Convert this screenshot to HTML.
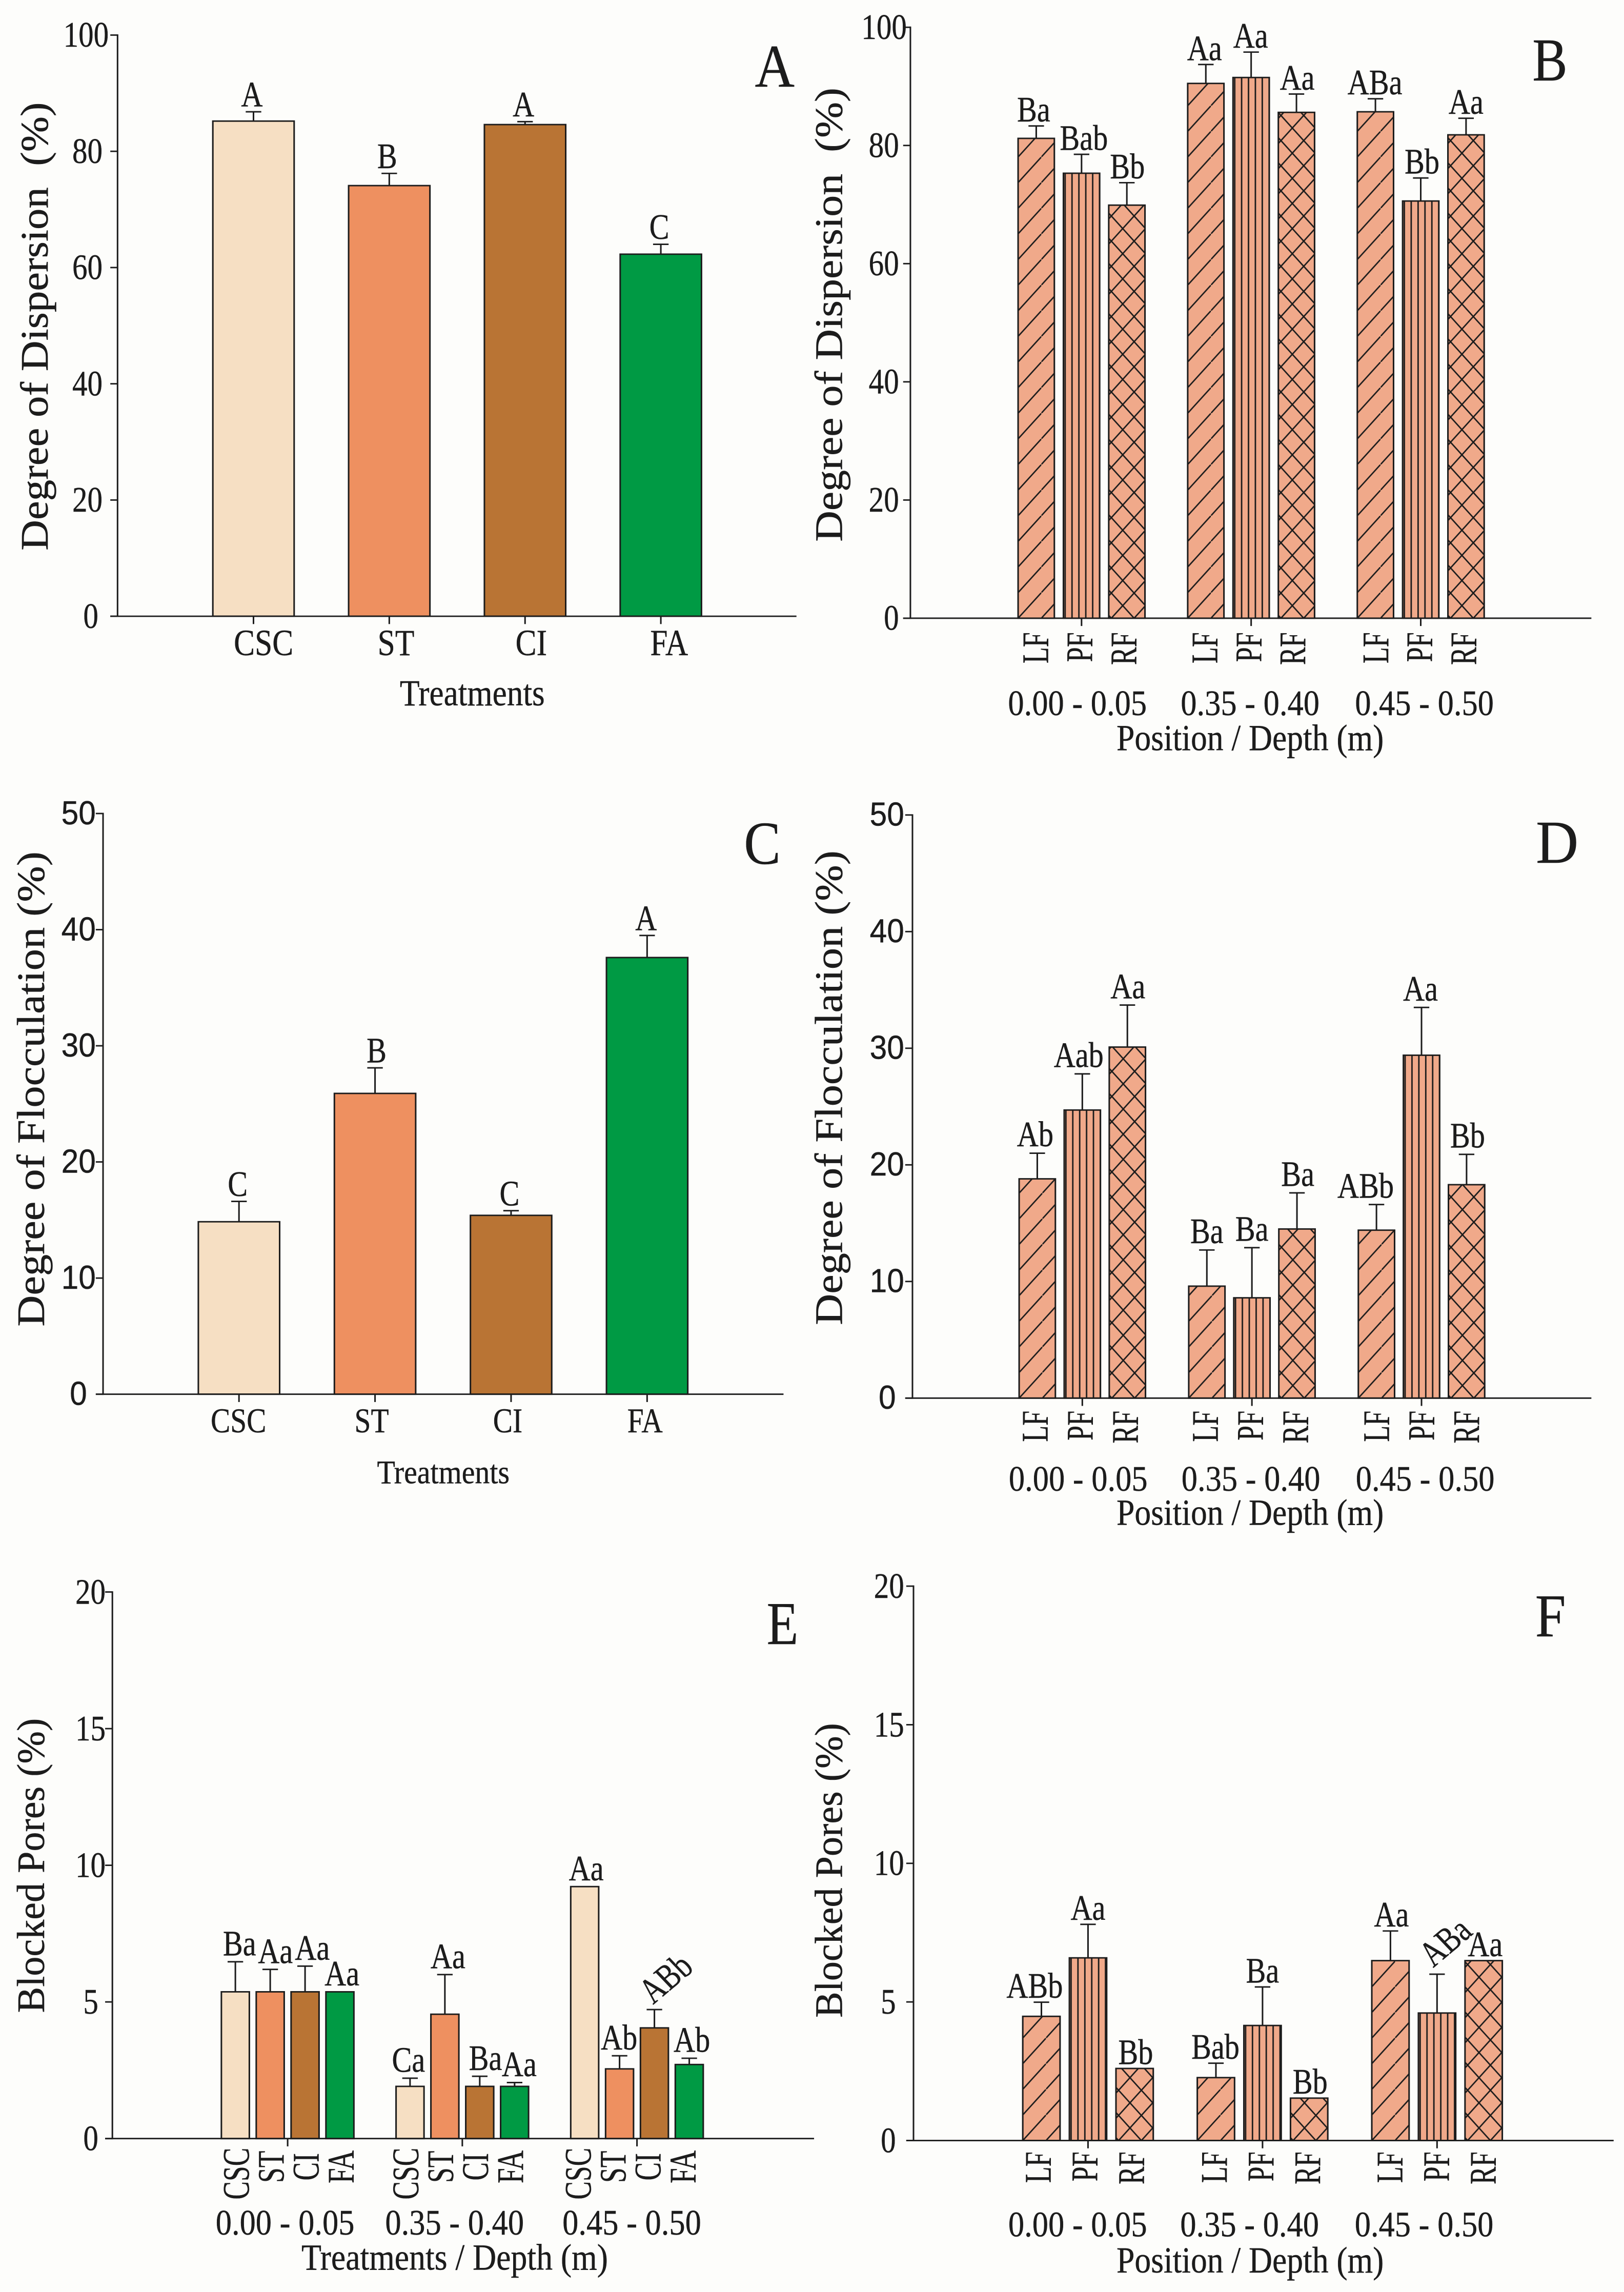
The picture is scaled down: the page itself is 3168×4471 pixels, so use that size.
<!DOCTYPE html>
<html lang="en">
<head>
<meta charset="utf-8">
<title>Degree of dispersion, flocculation and blocked pores</title>
<style>
html,body{margin:0;padding:0;background:#fdfdfb;}
svg{display:block;}
text{white-space:pre;stroke:#1c1c1c;stroke-width:0.5px;}
</style>
</head>
<body>
<svg id="figure" xmlns="http://www.w3.org/2000/svg" width="3168" height="4471" viewBox="0 0 3168 4471">
<defs>
<pattern id="hatch-LF" patternUnits="userSpaceOnUse" width="44.9" height="52.6">
<rect width="44.9" height="52.6" fill="#f0a98a"/>
<path d="M-9 63.1L54 -10.5" stroke="#1c1c1c" stroke-width="2.8" fill="none"/>
</pattern>
<pattern id="hatch-PF" patternUnits="userSpaceOnUse" width="13.3" height="20">
<rect width="13.3" height="20" fill="#f0a98a"/>
<path d="M3.3 0V20" stroke="#1c1c1c" stroke-width="2.8" fill="none"/>
</pattern>
<pattern id="hatch-RF" patternUnits="userSpaceOnUse" width="44" height="51.6" patternTransform="translate(5 0)">
<rect width="44" height="51.6" fill="#f0a98a"/>
<path d="M-4.4 -5.2L48.4 56.8M-4.4 56.8L48.4 -5.2" stroke="#1c1c1c" stroke-width="2.8" fill="none"/>
</pattern>
</defs>
<rect width="3168" height="4471" fill="#fdfdfb"/>
</svg>
<script>
// ---- Panel A data ----
const panelA_categories = ['CSC', 'ST', 'CI', 'FA'];
const panelA_values = [[85.2, 74.1, 84.6, 62.3]];
const panelA_errors = [[1.6, 2.1, 0.5, 1.7]];
const panelA_letters = [['A', 'B', 'A', 'C']];
const panelA_ticks = [0, 20, 40, 60, 80, 100];

// ---- Panel B data ----
const panelB_categories = ['LF', 'PF', 'RF'];
const panelB_groups = ['0.00 - 0.05', '0.35 - 0.40', '0.45 - 0.50'];
const panelB_values = [[81.2, 75.3, 69.9], [90.5, 91.5, 85.6], [85.7, 70.6, 81.8]];
const panelB_errors = [[2.1, 3.2, 3.8], [3.2, 4.3, 3.1], [2.2, 3.9, 2.8]];
const panelB_letters = [['Ba', 'Bab', 'Bb'], ['Aa', 'Aa', 'Aa'], ['ABa', 'Bb', 'Aa']];
const panelB_ticks = [0, 20, 40, 60, 80, 100];

// ---- Panel C data ----
const panelC_categories = ['CSC', 'ST', 'CI', 'FA'];
const panelC_values = [[14.85, 25.9, 15.4, 37.6]];
const panelC_errors = [[1.75, 2.2, 0.4, 1.9]];
const panelC_letters = [['C', 'B', 'C', 'A']];
const panelC_ticks = [0, 10, 20, 30, 40, 50];

// ---- Panel D data ----
const panelD_categories = ['LF', 'PF', 'RF'];
const panelD_groups = ['0.00 - 0.05', '0.35 - 0.40', '0.45 - 0.50'];
const panelD_values = [[18.8, 24.7, 30.1], [9.6, 8.6, 14.5], [14.4, 29.4, 18.3]];
const panelD_errors = [[2.2, 3.1, 3.6], [3.1, 4.3, 3.1], [2.2, 4.1, 2.6]];
const panelD_letters = [['Ab', 'Aab', 'Aa'], ['Ba', 'Ba', 'Ba'], ['ABb', 'Aa', 'Bb']];
const panelD_ticks = [0, 10, 20, 30, 40, 50];

// ---- Panel E data ----
const panelE_categories = ['CSC', 'ST', 'CI', 'FA'];
const panelE_groups = ['0.00 - 0.05', '0.35 - 0.40', '0.45 - 0.50'];
const panelE_values = [[5.37, 5.37, 5.37, 5.37], [1.91, 4.55, 1.91, 1.91], [9.22, 2.55, 4.05, 2.71]];
const panelE_errors = [[1.1, 0.82, 0.94, 0], [0.3, 1.45, 0.37, 0.14], [0, 0.48, 0.67, 0.23]];
const panelE_letters = [['Ba', 'Aa', 'Aa', 'Aa'], ['Ca', 'Aa', 'Ba', 'Aa'], ['Aa', 'Ab', 'ABb', 'Ab']];
const panelE_ticks = [0, 5, 10, 15, 20];

// ---- Panel F data ----
const panelF_categories = ['LF', 'PF', 'RF'];
const panelF_groups = ['0.00 - 0.05', '0.35 - 0.40', '0.45 - 0.50'];
const panelF_values = [[4.48, 6.59, 2.6], [2.27, 4.15, 1.53], [6.49, 4.6, 6.49]];
const panelF_errors = [[0.51, 1.21, 0], [0.52, 1.39, 0], [1.07, 1.4, 0]];
const panelF_letters = [['ABb', 'Aa', 'Bb'], ['Bab', 'Ba', 'Bb'], ['Aa', 'ABa', 'Aa']];
const panelF_ticks = [0, 5, 10, 15, 20];

const SVGNS = 'http://www.w3.org/2000/svg';
const SCALE_X = 1.0102;
const SCALE_Y = 0.9503;
const INK = '#1c1c1c';
const SERIF = '"Liberation Serif", serif';
const SANS = '"Liberation Sans", sans-serif';
const solidColors = { CSC: '#f6dfc3', ST: '#ee9060', CI: '#b97434', FA: '#009a44' };
const svgRoot = document.getElementById('figure');

function make(tag, parent, attrs) {
  const node = document.createElementNS(SVGNS, tag);
  for (const key in attrs) node.setAttribute(key, attrs[key]);
  parent.appendChild(node);
  return node;
}

function addText(parent, name, str, x, y, size, opts) {
  const o = opts || {};
  const el = make('text', parent, {
    'font-family': o.font || SERIF,
    'font-size': size,
    'fill': INK,
    'text-anchor': o.anchor || 'middle',
    'transform': 'translate(' + x + ' ' + y + ') rotate(' + (o.rot || 0) + ') scale(' + (o.sx || 1) + ' 1)'
  });
  if (o.length) {
    el.setAttribute('textLength', o.length);
    el.setAttribute('lengthAdjust', 'spacingAndGlyphs');
  }
  el.textContent = str;
  
  
  return el;
}

function drawPanel(p) {
  const id = p.id.toLowerCase();
  const g = make('g', svgRoot, {
    transform: 'translate(' + p.ox + ' ' + p.oy + ') scale(' + SCALE_X + ' ' + SCALE_Y + ')'
  });
  
  

  const yScale = v => p.yZero - (v / p.yMax) * (p.yZero - p.yTop);
  const xScale = (gi, i) => p.x0 + gi * p.groupStep + i * p.barStep;

  // bars and error bars
  p.values.forEach((vals, gi) => {
    vals.forEach((v, i) => {
      const cat = p.categories[i];
      const cx = xScale(gi, i);
      const top = yScale(v);
      const errTop = yScale(v + p.errors[gi][i]);
      const left = cx - p.barW / 2;
      const groupTag = (p.groups ? p.groups[gi].replace(/[ .]/g, '') + '-' : '');

      if (p.errors[gi][i] > 0) {
        const err = make('path', g, {
          d: 'M' + cx + ' ' + top + 'V' + errTop + 'M' + (cx - 15) + ' ' + errTop + 'H' + (cx + 15),
          fill: 'none', stroke: INK, 'stroke-width': 3
        });
        
        
      }

      const holder = make('g', g, { transform: 'translate(' + left + ' ' + p.yZero + ')' });
      const fill = solidColors[cat] || ('url(#hatch-' + cat + ')');
      const bar = make('rect', holder, {
        x: 0, y: top - p.yZero, width: p.barW, height: p.yZero - top,
        fill: fill, stroke: INK, 'stroke-width': 3
      });
      
      

      const letter = p.letters[gi][i];
      const rotated = p.rotatedLabel && p.rotatedLabel.g === gi && p.rotatedLabel.i === i;
      const labelX = cx + (rotated ? p.rotatedLabel.dx : p.labelDx[gi][i]);
      const labelY = errTop + (rotated ? p.rotatedLabel.dy : p.labelDy);
      addText(g, 'significance-label', letter, labelX, labelY, 74, {
        sx: 0.78, rot: rotated ? p.rotatedLabel.rot : 0
      });

      // category tick labels
      if (p.rotated) {
        const lx = cx + p.catDx[gi] + i * p.catStep + 23;
        if (p.catMiddle) {
          addText(g, 'x-tick-label', cat, lx, cat.length === 3 ? p.catY + 14 : p.catY, 72, {
            sx: 0.78, rot: -90
          });
        } else {
          addText(g, 'x-tick-label', cat, lx, p.catY, 72, { sx: 0.76, rot: -90, anchor: 'end' });
        }
      } else {
        addText(g, 'x-tick-label', cat, cx + p.catDx[i], p.catY, p.catSize, { sx: 0.8 });
        const tick = make('line', g, { x1: cx, x2: cx, y1: p.yZero, y2: p.yZero + 16, stroke: INK, 'stroke-width': 3 });
        
        
      }
    });

    // group tick and label
    if (p.groups) {
      const center = xScale(gi, p.groupTickAt);
      const tick = make('line', g, { x1: center, x2: center, y1: p.yZero, y2: p.yZero + 16, stroke: INK, 'stroke-width': 3 });
      
      
      addText(g, 'depth-label', p.groups[gi], center + p.groupDx[gi], p.groupY, 74, { length: 268 });
    }
  });

  // axes
  const yAxis = make('line', g, { x1: p.axisX, x2: p.axisX, y1: p.yTop - 1.5, y2: p.yZero + 1.5, stroke: INK, 'stroke-width': 3 });
  
  
  const xAxis = make('line', g, { x1: p.axisX - 14, x2: p.axisEnd, y1: p.yZero, y2: p.yZero, stroke: INK, 'stroke-width': 3 });
  
  

  p.ticks.forEach(t => {
    const ty = yScale(t);
    const label = String(t);
    const tick = make('line', g, { x1: p.axisX - 14, x2: p.axisX, y1: ty, y2: ty, stroke: INK, 'stroke-width': 3 });
    
    
    addText(g, 'y-tick-label', label, p.tickRight[label.length], ty + (p.sans ? 22 : 24), p.sans ? 68 : 74, {
      anchor: 'end', sx: p.sans ? 0.88 : 0.79, font: p.sans ? SANS : SERIF
    });
  });

  // titles
  addText(g, 'y-axis-title', p.yTitle, p.yTitleX, p.yTitleBottom, 76, {
    anchor: 'start', rot: -90, length: p.yTitleLen
  });
  addText(g, 'x-axis-title', p.xTitle, p.xTitleX, p.xTitleY, p.xTitleSize, { length: p.xTitleLen });
  addText(g, 'panel-letter', p.id, p.letterX, p.letterY, 125, { sx: p.letterSx });
}

drawPanel({
  id: 'A', ox: 0, oy: 0,
  categories: panelA_categories, values: panelA_values, errors: panelA_errors,
  letters: panelA_letters, ticks: panelA_ticks,
  yMax: 100, yZero: 1265, yTop: 72, axisX: 227, axisEnd: 1538,
  x0: 489.5, groupStep: 0, barStep: 262.2, barW: 157,
  labelDx: [[-3, -4, -3, -3]], labelDy: -11,
  catDx: [19.5, 13, 12, 16], catY: 1345, catSize: 76,
  tickRight: { 3: 210, 2: 198, 1: 190 },
  yTitle: 'Degree of Dispersion  (%)', yTitleX: 92, yTitleBottom: 1130, yTitleLen: 920,
  xTitle: 'Treatments', xTitleX: 912, xTitleY: 1448, xTitleSize: 76, xTitleLen: 280,
  letterX: 1496, letterY: 178, letterSx: 0.85
});

drawPanel({
  id: 'B', ox: 1584, oy: 0,
  categories: panelB_categories, groups: panelB_groups, values: panelB_values, errors: panelB_errors,
  letters: panelB_letters, ticks: panelB_ticks,
  yMax: 100, yZero: 1269, yTop: 56, axisX: 190, axisEnd: 1505,
  x0: 433, groupStep: 327.5, barStep: 87.5, barW: 70,
  labelDx: [[-5, 4.5, 1], [-2.5, -1, 1.5], [-1, 2.5, 0]], labelDy: -9,
  rotated: true, catDx: [0, -1, 1.5], catStep: -2.5, catY: 1298,
  groupTickAt: 1, groupDx: [-8, -2, 7], groupY: 1468,
  tickRight: { 3: 183, 2: 168, 1: 168 },
  yTitle: 'Degree of Dispersion  (%)', yTitleX: 58, yTitleBottom: 1112, yTitleLen: 932,
  xTitle: 'Position / Depth (m)', xTitleX: 846, xTitleY: 1540, xTitleSize: 76, xTitleLen: 516,
  letterX: 1425, letterY: 165, letterSx: 0.81
});

drawPanel({
  id: 'C', ox: 0, oy: 1490, sans: true,
  categories: panelC_categories, values: panelC_values, errors: panelC_errors,
  letters: panelC_letters, ticks: panelC_ticks,
  yMax: 50, yZero: 1294, yTop: 102, axisX: 199, axisEnd: 1513,
  x0: 461.5, groupStep: 0, barStep: 262.7, barW: 157,
  labelDx: [[-2.5, 3, -3, -2]], labelDy: -11,
  catDx: [-1, -6.5, -6.5, -4], catY: 1372, catSize: 71,
  tickRight: { 2: 185, 1: 168 },
  yTitle: 'Degree of Flocculation (%)', yTitleX: 85, yTitleBottom: 1155, yTitleLen: 975,
  xTitle: 'Treatments', xTitleX: 856, xTitleY: 1477, xTitleSize: 68, xTitleLen: 256,
  letterX: 1472, letterY: 205, letterSx: 0.85
});

drawPanel({
  id: 'D', ox: 1584, oy: 1490, sans: true,
  categories: panelD_categories, groups: panelD_groups, values: panelD_values, errors: panelD_errors,
  letters: panelD_letters, ticks: panelD_ticks,
  yMax: 50, yZero: 1302, yTop: 105, axisX: 194, axisEnd: 1505,
  x0: 435, groupStep: 327.5, barStep: 87, barW: 70,
  labelDx: [[-4, -7, 1], [0, 0, 1.5], [-21, -2, 2]], labelDy: -14,
  rotated: true, catDx: [-3, -2, 1], catStep: 0, catY: 1328,
  groupTickAt: 1, groupDx: [-8, -2, 7], groupY: 1492,
  tickRight: { 2: 178, 1: 162 },
  yTitle: 'Degree of Flocculation (%)', yTitleX: 58, yTitleBottom: 1152, yTitleLen: 974,
  xTitle: 'Position / Depth (m)', xTitleX: 846, xTitleY: 1562, xTitleSize: 76, xTitleLen: 516,
  letterX: 1439, letterY: 203, letterSx: 0.91
});

drawPanel({
  id: 'E', ox: 0, oy: 2981,
  categories: panelE_categories, groups: panelE_groups, values: panelE_values, errors: panelE_errors,
  letters: panelE_letters, ticks: panelE_ticks,
  yMax: 20, yZero: 1253, yTop: 131, axisX: 217, axisEnd: 1572,
  x0: 454.5, groupStep: 337.3, barStep: 67.3, barW: 54,
  labelDx: [[8, 10, 14, 4], [-3, 6, 11, 9], [3, -1, 0, 5]], labelDy: -13,
  rotatedLabel: { g: 2, i: 2, dx: 38, dy: -46, rot: -42 },
  rotated: true, catMiddle: true, catDx: [3, -7, -11], catStep: 0, catY: 1311,
  groupTickAt: 1.5, groupDx: [-5, -15, -10], groupY: 1450,
  tickRight: { 2: 204, 1: 190 },
  yTitle: 'Blocked Pores (%)', yTitleX: 85, yTitleBottom: 995, yTitleLen: 605,
  xTitle: 'Treatments / Depth (m)', xTitleX: 878, xTitleY: 1522, xTitleSize: 76, xTitleLen: 592,
  letterX: 1511, letterY: 238, letterSx: 0.8
});

drawPanel({
  id: 'F', ox: 1584, oy: 2981,
  categories: panelF_categories, groups: panelF_groups, values: panelF_values, errors: panelF_errors,
  letters: panelF_letters, ticks: panelF_ticks,
  yMax: 20, yZero: 1257, yTop: 119, axisX: 196, axisEnd: 1548,
  x0: 443, groupStep: 337, barStep: 90, barW: 72,
  labelDx: [[-13, 0, 2], [-1, 0, 2], [2, 0, 3]], labelDy: -9,
  rotatedLabel: { g: 2, i: 1, dx: 32, dy: -48, rot: -42 },
  rotated: true, catDx: [-5, -2, 0], catStep: 0, catY: 1280,
  groupTickAt: 1, groupDx: [-20, -25, -25], groupY: 1454,
  tickRight: { 2: 178, 1: 162 },
  yTitle: 'Blocked Pores (%)', yTitleX: 58, yTitleBottom: 1005, yTitleLen: 605,
  xTitle: 'Position / Depth (m)', xTitleX: 846, xTitleY: 1528, xTitleSize: 76, xTitleLen: 516,
  letterX: 1426, letterY: 222, letterSx: 0.85
});
</script>
</body>
</html>
